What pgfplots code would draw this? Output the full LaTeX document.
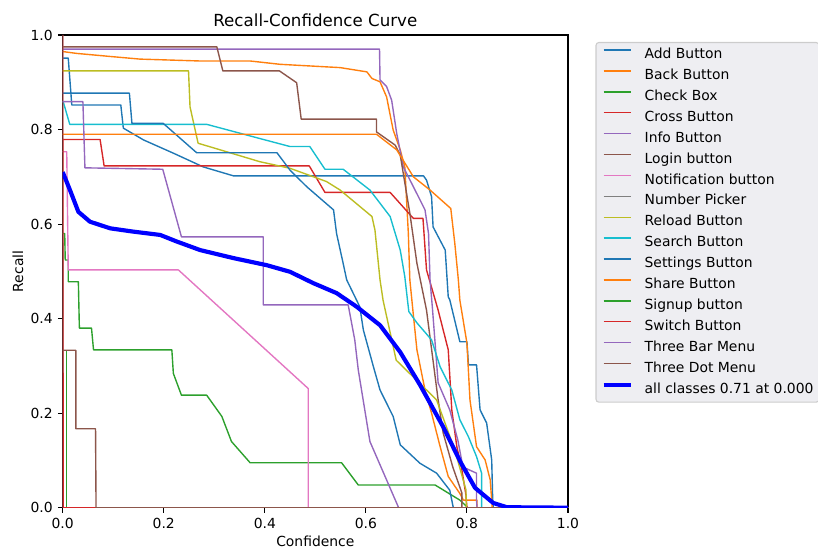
\documentclass[border=0pt]{standalone}
\usepackage{fontspec}
\setmainfont{DejaVu Sans}
\usepackage{pgfplots}
\pgfplotsset{compat=1.18}
\definecolor{C0}{HTML}{1F77B4}
\definecolor{C1}{HTML}{FF7F0E}
\definecolor{C2}{HTML}{2CA02C}
\definecolor{C3}{HTML}{D62728}
\definecolor{C4}{HTML}{9467BD}
\definecolor{C5}{HTML}{8C564B}
\definecolor{C6}{HTML}{E377C2}
\definecolor{C7}{HTML}{7F7F7F}
\definecolor{C8}{HTML}{BCBD22}
\definecolor{C9}{HTML}{17BECF}
\definecolor{legfill}{RGB}{238,238,242}
\definecolor{legedge}{RGB}{204,204,204}
\begin{document}
\begin{tikzpicture}
\useasboundingbox (-45.14bp,-29.74bp) rectangle (543.82bp,365.54bp);
\clip (-45.14bp,-29.74bp) rectangle (543.82bp,365.54bp);
\begin{axis}[
  at={(0,0)}, anchor=south west,
  scale only axis, width=363.82bp, height=340.34bp,
  xmin=0, xmax=1, ymin=0, ymax=1,
  xtick={0,0.2,0.4,0.6,0.8,1}, xticklabels={0.0,0.2,0.4,0.6,0.8,1.0},
  ytick={0,0.2,0.4,0.6,0.8,1}, yticklabels={0.0,0.2,0.4,0.6,0.8,1.0},
  tick align=outside, major tick length=3.5bp,
  xtick pos=bottom, ytick pos=left,
  tick style={line width=0.8bp, black},
  axis line style={line width=0.8bp, black},
  tick label style={font=\fontsize{10bp}{12bp}\selectfont, inner sep=0pt},
  xticklabel style={anchor=north}, yticklabel style={anchor=east},
  xticklabel shift=3.5bp, yticklabel shift=3.5bp,
  title={Recall-Confidence Curve},
  title style={at={(axis description cs:0.5,1)}, anchor=south, inner sep=0pt, font=\fontsize{12bp}{14bp}\selectfont},
  xlabel={Confidence}, ylabel={Recall},
  xlabel style={at={(axis description cs:0.5,0)}, anchor=north, yshift=-20bp, inner sep=0pt, font=\fontsize{10bp}{12bp}\selectfont},
  ylabel style={at={(axis description cs:-0.0885,0.5)}, anchor=center, inner sep=0pt, font=\fontsize{10bp}{12bp}\selectfont},
  every axis plot/.append style={line width=1bp, line join=round, mark=none},
  legend cell align=left,
  legend image code/.code={\draw[#1] (0bp,3.6bp) -- (20bp,3.6bp);},
  legend style={at={(rel axis cs:1.0544,0.9852)}, anchor=north west,
    draw=legedge, fill=legfill, line width=0.8bp, rounded corners=2bp,
    inner xsep=4bp, inner ysep=4bp, row sep=5.05bp, column sep=8bp,
    font=\fontsize{10bp}{12bp}\selectfont,
    nodes={inner sep=0pt, text height=7.6bp, text depth=2.4bp}},
]
\addplot[C0] coordinates {(0,0.951)(0.011,0.951)(0.018,0.852)(0.115,0.852)(0.120,0.803)(0.160,0.778)(0.219,0.750)(0.278,0.721)(0.338,0.702)(0.714,0.702)(0.720,0.693)(0.730,0.658)(0.733,0.594)(0.757,0.545)(0.763,0.446)(0.766,0.440)(0.786,0.351)(0.800,0.351)(0.803,0.302)(0.819,0.302)(0.826,0.207)(0.839,0.179)(0.849,0.101)(0.851,0.016)(0.852,0)(1,0)};
\addlegendentry{Add Button}
\addplot[C1] coordinates {(0,0.965)(0.028,0.961)(0.100,0.954)(0.153,0.949)(0.272,0.945)(0.371,0.945)(0.430,0.938)(0.549,0.931)(0.602,0.922)(0.612,0.908)(0.628,0.901)(0.641,0.869)(0.654,0.799)(0.668,0.757)(0.677,0.721)(0.684,0.581)(0.687,0.482)(0.693,0.418)(0.701,0.334)(0.717,0.249)(0.730,0.200)(0.747,0.129)(0.763,0.066)(0.786,0.030)(0.793,0.016)(0.820,0.016)(0.820,0)(1,0)};
\addlegendentry{Back Button}
\addplot[C2] coordinates {(0,0.58)(0.004,0.58)(0.005,0.524)(0.011,0.524)(0.011,0.478)(0.031,0.478)(0.033,0.380)(0.057,0.380)(0.061,0.334)(0.216,0.334)(0.219,0.284)(0.235,0.238)(0.285,0.238)(0.315,0.193)(0.334,0.140)(0.371,0.095)(0.552,0.095)(0.585,0.048)(0.737,0.048)(0.786,0.016)(0.800,0.002)(0.800,0)(1,0)};
\addlegendentry{Check Box}
\addplot[C3] coordinates {(0,0.779)(0.074,0.779)(0.082,0.723)(0.488,0.723)(0.519,0.667)(0.648,0.667)(0.694,0.612)(0.713,0.612)(0.720,0.503)(0.743,0.418)(0.763,0.334)(0.770,0.207)(0.780,0.129)(0.790,0.080)(0.798,0.027)(0.800,0)(1,0)};
\addlegendentry{Cross Button}
\addplot[C4] coordinates {(0,0.970)(0.627,0.970)(0.628,0.905)(0.641,0.891)(0.651,0.862)(0.661,0.792)(0.674,0.721)(0.694,0.679)(0.717,0.630)(0.724,0.580)(0.727,0.482)(0.732,0.418)(0.743,0.264)(0.766,0.207)(0.782,0.143)(0.792,0.086)(0.819,0.073)(0.819,0.016)(0.820,0)(1,0)};
\addlegendentry{Info Button}
\addplot[C5] coordinates {(0,0.975)(0.305,0.975)(0.317,0.924)(0.429,0.924)(0.463,0.899)(0.472,0.822)(0.621,0.822)(0.621,0.795)(0.658,0.767)(0.668,0.746)(0.687,0.623)(0.701,0.517)(0.720,0.418)(0.743,0.228)(0.753,0.158)(0.772,0.086)(0.790,0.031)(0.790,0)(1,0)};
\addlegendentry{Login button}
\addplot[C6] coordinates {(0,0.753)(0.008,0.753)(0.011,0.503)(0.229,0.503)(0.486,0.252)(0.486,0)(1,0)};
\addlegendentry{Notification button}
\addplot[C7] coordinates {(0,1)(0.0005,0)(1,0)};
\addlegendentry{Number Picker}
\addplot[C8] coordinates {(0,0.924)(0.249,0.924)(0.252,0.848)(0.268,0.771)(0.390,0.732)(0.450,0.718)(0.522,0.690)(0.549,0.672)(0.612,0.616)(0.618,0.587)(0.628,0.482)(0.634,0.439)(0.660,0.312)(0.740,0.228)(0.776,0.122)(0.798,0.038)(0.799,0)(1,0)};
\addlegendentry{Reload Button}
\addplot[C9] coordinates {(0,0.859)(0.001,0.859)(0.014,0.811)(0.285,0.811)(0.390,0.781)(0.450,0.764)(0.489,0.764)(0.519,0.716)(0.555,0.716)(0.608,0.672)(0.648,0.616)(0.668,0.545)(0.677,0.489)(0.683,0.433)(0.685,0.415)(0.701,0.391)(0.730,0.355)(0.747,0.298)(0.770,0.249)(0.786,0.186)(0.803,0.150)(0.819,0.108)(0.829,0.073)(0.829,0)(1,0)};
\addlegendentry{Search Button}
\addplot[C0] coordinates {(0,0.877)(0.132,0.877)(0.137,0.813)(0.199,0.813)(0.265,0.751)(0.424,0.751)(0.450,0.714)(0.483,0.679)(0.536,0.630)(0.542,0.580)(0.555,0.517)(0.562,0.482)(0.588,0.425)(0.595,0.376)(0.615,0.298)(0.628,0.249)(0.654,0.193)(0.668,0.133)(0.707,0.094)(0.740,0.073)(0.766,0.037)(0.773,0)(1,0)};
\addlegendentry{Settings Button}
\addplot[C1] coordinates {(0,0.790)(0.621,0.790)(0.661,0.757)(0.694,0.700)(0.727,0.672)(0.768,0.633)(0.776,0.559)(0.783,0.482)(0.786,0.439)(0.800,0.348)(0.806,0.228)(0.819,0.129)(0.836,0.101)(0.846,0.059)(0.849,0.016)(0.850,0)(1,0)};
\addlegendentry{Share Button}
\addplot[C2] coordinates {(0,0.333)(0.008,0.333)(0.008,0)(1,0)};
\addlegendentry{Signup button}
\addplot[C3] coordinates {(0,1)(0.001,0)(1,0)};
\addlegendentry{Switch Button}
\addplot[C4] coordinates {(0,0.859)(0.040,0.859)(0.044,0.719)(0.198,0.716)(0.235,0.573)(0.397,0.573)(0.397,0.429)(0.565,0.429)(0.578,0.355)(0.585,0.291)(0.608,0.140)(0.664,0.002)(0.664,0)(1,0)};
\addlegendentry{Three Bar Menu}
\addplot[C5] coordinates {(0,0.333)(0.026,0.333)(0.026,0.167)(0.065,0.167)(0.066,0)(1,0)};
\addlegendentry{Three Dot Menu}
\addplot[blue, line width=3bp] coordinates {(0,0.71)(0.0144,0.672)(0.031,0.626)(0.054,0.605)(0.094,0.591)(0.140,0.584)(0.193,0.577)(0.226,0.563)(0.272,0.545)(0.338,0.528)(0.404,0.513)(0.450,0.499)(0.496,0.475)(0.542,0.454)(0.582,0.425)(0.628,0.386)(0.668,0.329)(0.707,0.260)(0.753,0.171)(0.787,0.097)(0.816,0.042)(0.852,0.010)(0.879,0.001)(1,0)};
\addlegendentry{all classes 0.71 at 0.000}
\end{axis}
\end{tikzpicture}
\end{document}
